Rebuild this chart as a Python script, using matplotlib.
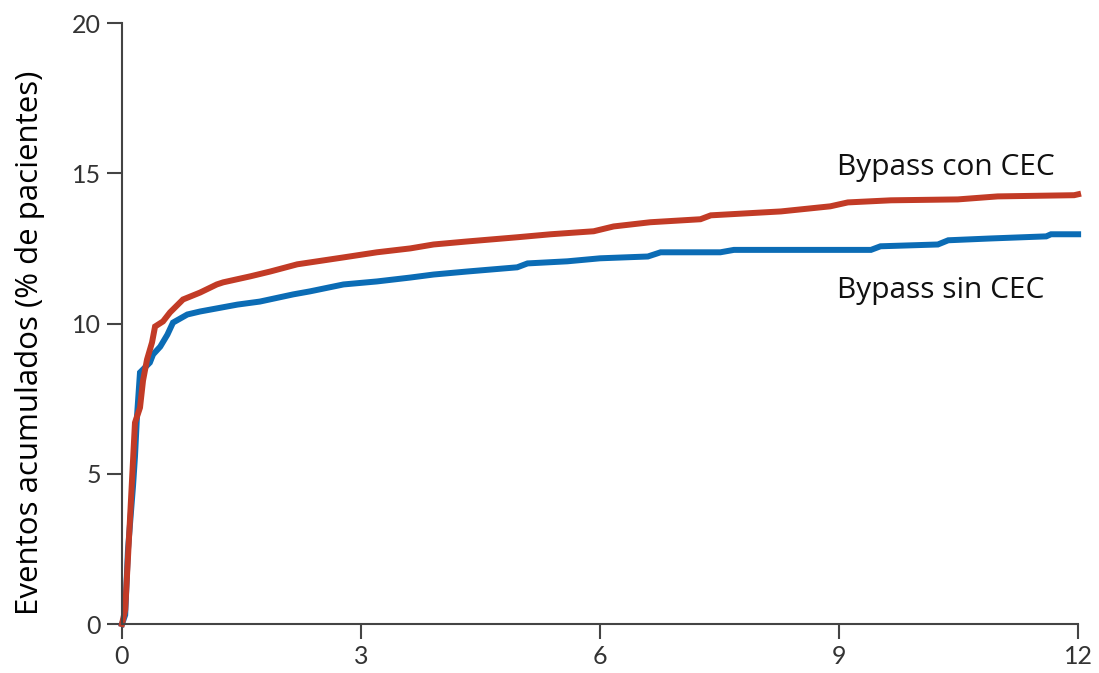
import matplotlib
matplotlib.use("Agg")
import matplotlib.pyplot as plt

# cumulative events, % of patients
t_con = [0, 0.04, 0.075, 0.126, 0.163, 0.226, 0.264, 0.314, 0.377, 0.415, 0.515,
         0.603, 0.766, 0.98, 1.19, 1.27, 1.61, 1.86, 2.2, 2.78, 3.2, 3.62, 3.91,
         4.33, 4.96, 5.38, 5.92, 6.17, 6.63, 7.26, 7.39, 8.27, 8.89, 9.11, 9.65,
         10.49, 10.99, 11.95, 12.0]
y_con = [0, 0.47, 2.2, 4.8, 6.7, 7.2, 8.1, 8.8, 9.37, 9.9, 10.07,
         10.37, 10.8, 11.03, 11.3, 11.37, 11.57, 11.73, 11.97, 12.2, 12.37, 12.5, 12.63,
         12.73, 12.87, 12.97, 13.07, 13.23, 13.37, 13.47, 13.6, 13.73, 13.9, 14.03, 14.1,
         14.13, 14.23, 14.27, 14.3]

t_sin = [0, 0.04, 0.075, 0.138, 0.163, 0.188, 0.226, 0.35, 0.39, 0.48, 0.57, 0.64,
         0.82, 0.98, 1.45, 1.73, 2.15, 2.36, 2.78, 3.2, 3.62, 3.91, 4.33, 4.96,
         5.09, 5.59, 6.0, 6.6, 6.76, 7.51, 7.68, 9.4, 9.52, 10.24, 10.37, 10.9,
         11.6, 11.66, 12.0]
y_sin = [0, 0.3, 2.47, 4.57, 5.57, 6.9, 8.37, 8.7, 8.97, 9.23, 9.63, 10.03,
         10.3, 10.4, 10.63, 10.73, 10.97, 11.07, 11.3, 11.4, 11.53, 11.63, 11.73, 11.87,
         12.0, 12.07, 12.17, 12.23, 12.37, 12.37, 12.45, 12.45, 12.57, 12.63, 12.77, 12.83,
         12.9, 12.97, 12.97]

x_ticks = [0, 3, 6, 9, 12]
y_ticks = [0, 5, 10, 15, 20]

plt.rcParams['font.family'] = ['Open Sans', 'DejaVu Sans']

fig = plt.figure(figsize=(10.99, 6.73), dpi=100)
ax = fig.add_axes([0.111, 0.0728, 0.870, 0.893])

ax.plot(t_sin, y_sin, color='#0B6CB5', lw=4.3, clip_on=False, solid_joinstyle='miter')
ax.plot(t_con, y_con, color='#C23B26', lw=4.3, clip_on=False, solid_joinstyle='miter')

ax.text(8.97, 15.2, 'Bypass con CEC', fontsize=21.5, va='center', ha='left', color='#111111')
ax.text(8.97, 11.1, 'Bypass sin CEC', fontsize=21.5, va='center', ha='left', color='#111111')

ax.set_xlim(0, 12)
ax.set_ylim(0, 20)
ax.set_xticks(x_ticks)
ax.set_yticks(y_ticks)
ax.set_ylabel('Eventos acumulados (% de pacientes)', fontsize=22.5)
ax.yaxis.set_label_coords(-0.081, 0.468)

for s in ['top', 'right']:
    ax.spines[s].set_visible(False)
for s in ['left', 'bottom']:
    ax.spines[s].set_color('#444444')
    ax.spines[s].set_linewidth(1.5)
ax.tick_params(length=11, width=1.5, color='#444444', labelcolor='#333333',
               labelsize=18, pad=4)
for lab in ax.get_xticklabels() + ax.get_yticklabels():
    lab.set_family(['Lato', 'DejaVu Sans'])

fig.savefig('out.png', dpi=100)
